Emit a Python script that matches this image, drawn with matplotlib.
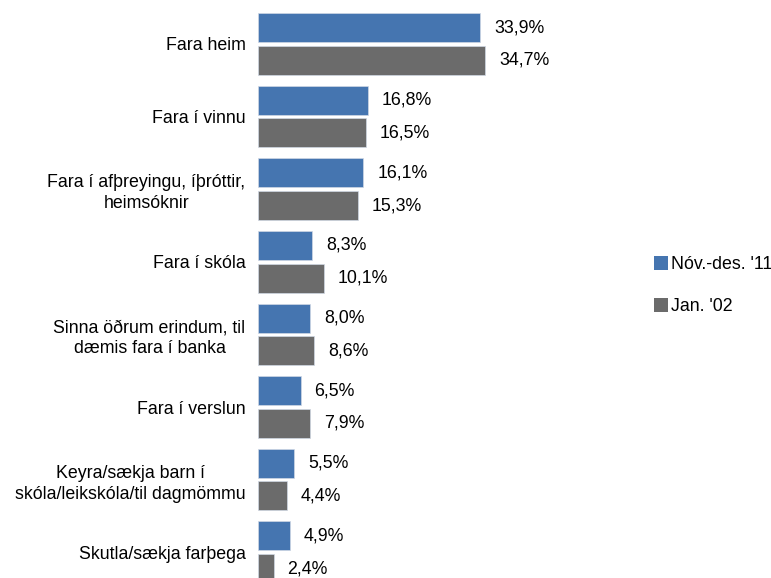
import numpy as np
import matplotlib
matplotlib.use("Agg")
import matplotlib.pyplot as plt
from matplotlib.patches import Patch

plt.rcParams['font.family'] = ['Liberation Sans', 'DejaVu Sans']
fs = 12.8

categories = [
    "Fara heim",
    "Fara í vinnu",
    "Fara í afþreyingu, íþróttir,\nheimsóknir",
    "Fara í skóla",
    "Sinna öðrum erindum, til\ndæmis fara í banka",
    "Fara í verslun",
    "Keyra/sækja barn í\nskóla/leikskóla/til dagmömmu",
    "Skutla/sækja farþega",
]
nov_des_11 = [33.9, 16.8, 16.1, 8.3, 8.0, 6.5, 5.5, 4.9]
jan_02 = [34.7, 16.5, 15.3, 10.1, 8.6, 7.9, 4.4, 2.4]
series_names = ["Nóv.-des. '11", "Jan. '02"]
colors = ["#4575B0", "#6B6B6B"]

fig = plt.figure(figsize=(7.71, 5.78), dpi=100)
ax = fig.add_axes([258 / 771, 0, 262 / 771, 1])

y = np.arange(len(categories))
h = 0.40
off = 0.225
for vals, dy, c in zip([nov_des_11, jan_02], [-off, off], colors):
    bars = ax.barh(y + dy, vals, height=h, color=c, edgecolor="#d0d8e4", linewidth=0.5)
    for b, v in zip(bars, vals):
        ax.annotate(f"{v:.1f}%".replace(".", ","),
                    (b.get_width(), b.get_y() + b.get_height() / 2),
                    xytext=(10, 0), textcoords="offset points",
                    ha="left", va="center", fontsize=fs)

ax.set_xlim(0, 40)
ax.set_ylim(7.355, -0.606)
ax.set_yticks(y)
ax.set_yticklabels(categories, fontsize=fs, multialignment="center", linespacing=1.3)
ax.tick_params(axis="y", length=0, pad=9)
ax.set_xticks([])
for s in ax.spines.values():
    s.set_visible(False)

handles = [Patch(facecolor=c, label=n) for c, n in zip(colors, series_names)]
fig.legend(handles=handles, loc="center left", bbox_to_anchor=(645 / 771, 1 - 285.5 / 578),
           frameon=False, fontsize=fs, handlelength=0.8, handleheight=0.8,
           handletextpad=0.15, labelspacing=1.4, borderpad=0)

fig.savefig("out.png", dpi=100)
